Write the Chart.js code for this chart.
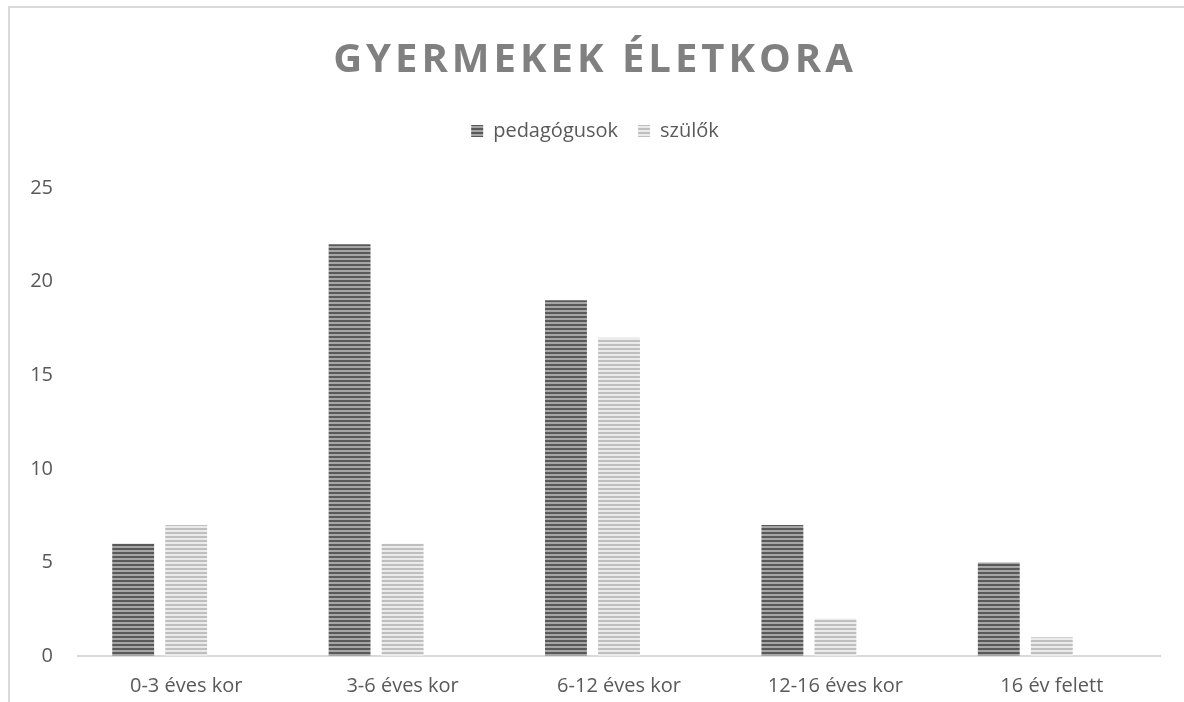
<!DOCTYPE html>
<html>
<head>
<meta charset="utf-8">
<script src="https://cdn.jsdelivr.net/npm/chart.js@4.4.1/dist/chart.umd.min.js"></script>
<style>
  html, body { margin: 0; padding: 0; background: #fff; overflow: hidden; }
  #frame {
    position: absolute; left: 8px; top: 6px; width: 1300px; height: 800px;
    border-left: 2px solid #d9d9d9; border-top: 2px solid #d9d9d9;
  }
  #wrap { position: absolute; left: 0; top: 0; width: 1184px; height: 702px; }
</style>
</head>
<body>
<div id="frame"></div>
<div id="wrap"><canvas id="ageChart"></canvas></div>
<script>
// Gyermekek életkora — pedagógusok vs. szülők

const CATEGORIES  = ["0-3 éves kor", "3-6 éves kor", "6-12 éves kor", "12-16 éves kor", "16 év felett"];
const PEDAGOGUSOK = [6, 22, 19, 7, 5];
const SZULOK      = [7, 6, 17, 2, 1];
const EMPTY       = [];   // the source workbook has a blank third series that still takes a slot
const Y_TICKS     = [0, 5, 10, 15, 20, 25];

const FONT = "'Open Sans', 'Noto Sans', sans-serif";
const TEXT = "#595959";

// horizontal stripe fills, like the Office pattern fill
function stripes(dark, light) {
  const c = document.createElement("canvas");
  c.width = 8; c.height = 4;
  const g = c.getContext("2d");
  g.fillStyle = light; g.fillRect(0, 0, 8, 4);
  g.fillStyle = dark;  g.fillRect(0, 0, 8, 2);
  return g.createPattern(c, "repeat");
}

const darkFill  = stripes("#595959", "#a6a6a6");
const lightFill = stripes("#bfbfbf", "#ebebeb");

// title letter spacing + extra room under the legend (no options for these)
const tweaks = {
  id: "tweaks",
  afterInit(chart) {
    const tb = chart.titleBlock;
    if (tb) {
      const draw = tb.draw.bind(tb);
      tb.draw = function () {
        chart.ctx.save();
        chart.ctx.letterSpacing = "4px";
        draw();
        chart.ctx.restore();
      };
    }
    const lg = chart.legend;
    if (lg) {
      const fit = lg.fit.bind(lg);
      lg.fit = function () {
        fit();
        this.height += 37;
      };
    }
  },
};

new Chart(document.getElementById("ageChart"), {
  type: "bar",
  data: {
    labels: CATEGORIES,
    datasets: [
      { label: "pedagógusok", data: PEDAGOGUSOK, backgroundColor: darkFill },
      { label: "szülők",      data: SZULOK,      backgroundColor: lightFill },
      { label: "",            data: EMPTY,       backgroundColor: "transparent" },
    ],
  },
  plugins: [tweaks],
  options: {
    responsive: true,
    maintainAspectRatio: false,
    animation: false,
    layout: { padding: { left: 30, right: 24, top: 27, bottom: 2 } },
    datasets: { bar: { categoryPercentage: 0.735, barPercentage: 0.79 } },
    plugins: {
      title: {
        display: true,
        text: "GYERMEKEK ÉLETKORA",
        color: "#808080",
        font: { family: FONT, size: 40, weight: "bold" },
        padding: { top: 10, bottom: 16 },
      },
      legend: {
        position: "top",
        labels: {
          font: { family: FONT, size: 20 },
          color: TEXT,
          boxWidth: 12,
          boxHeight: 12,
          padding: 20,
          filter: item => item.text !== "",
        },
      },
      tooltip: { enabled: false },
    },
    scales: {
      x: {
        afterFit(axis) { axis.height = 44; },
        grid: { display: false, drawTicks: false },
        border: { color: "#d9d9d9", width: 2 },
        ticks: { font: { family: FONT, size: 20 }, color: TEXT, padding: 18 },
      },
      y: {
        min: 0,
        max: 25,
        afterBuildTicks(axis) { axis.ticks = Y_TICKS.map(v => ({ value: v })); },
        afterFit(axis) { axis.width = 48; },
        grid: { display: false, drawTicks: false },
        border: { display: false },
        ticks: { font: { family: FONT, size: 20 }, color: TEXT, padding: 25 },
      },
    },
  },
});
</script>
</body>
</html>
